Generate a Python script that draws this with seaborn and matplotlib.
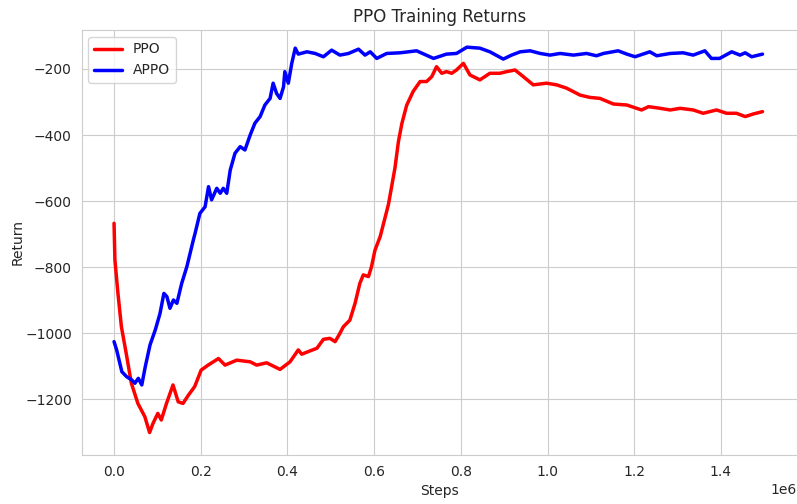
import numpy as np
import pandas as pd
import matplotlib
matplotlib.use("Agg")
import matplotlib.pyplot as plt
import seaborn as sns

# Returns (steps in thousands)
ppo_steps = [0, 2, 9, 17, 28, 40, 55, 71, 82, 90, 101, 109, 121, 136, 148, 159,
             171, 186, 201, 217, 241, 256, 283, 314, 329, 352, 383, 406, 425, 433,
             452, 468, 483, 498, 510, 521, 529, 544, 556, 567, 575, 587, 594, 602,
             614, 633, 648, 656, 664, 675, 690, 706, 721, 733, 744, 756, 767, 779,
             790, 806, 821, 844, 867, 890, 906, 925, 944, 967, 998, 1021, 1044,
             1075, 1098, 1121, 1152, 1183, 1217, 1233, 1260, 1283, 1306, 1336,
             1359, 1390, 1413, 1436, 1456, 1475, 1496]
ppo_returns = [-667, -778, -879, -980, -1060, -1151, -1212, -1252, -1300, -1272,
               -1242, -1262, -1212, -1156, -1207, -1212, -1188, -1161, -1111,
               -1096, -1076, -1096, -1081, -1086, -1096, -1089, -1109, -1086,
               -1050, -1063, -1053, -1045, -1018, -1015, -1025, -1000, -980, -960,
               -909, -849, -823, -828, -798, -748, -707, -610, -500, -420, -365,
               -310, -268, -238, -238, -223, -193, -213, -208, -213, -203, -183,
               -218, -233, -213, -213, -208, -203, -223, -248, -243, -248, -258,
               -279, -286, -289, -306, -309, -324, -314, -319, -324, -319, -324,
               -334, -324, -334, -334, -344, -336, -329]

appo_steps = [0, 6, 18, 29, 41, 48, 56, 64, 72, 83, 95, 106, 115, 122, 129, 137,
              145, 156, 168, 183, 187, 198, 210, 218, 225, 237, 245, 252, 260, 268,
              279, 291, 302, 314, 325, 337, 348, 360, 367, 375, 383, 391, 394, 402,
              410, 418, 425, 445, 464, 483, 502, 521, 541, 564, 579, 591, 606, 629,
              660, 698, 737, 767, 790, 814, 844, 867, 898, 917, 937, 960, 983, 1006,
              1029, 1060, 1090, 1113, 1129, 1163, 1183, 1202, 1236, 1252, 1283,
              1313, 1336, 1363, 1378, 1397, 1425, 1444, 1456, 1471, 1496]
appo_returns = [-1025, -1050, -1116, -1131, -1141, -1151, -1136, -1156, -1101,
                -1035, -990, -940, -879, -889, -924, -899, -909, -849, -798, -717,
                -697, -637, -617, -556, -596, -561, -576, -561, -576, -506, -455,
                -435, -445, -400, -364, -344, -309, -289, -243, -274, -289, -254,
                -208, -243, -183, -137, -155, -148, -153, -163, -143, -158, -153,
                -140, -158, -148, -168, -153, -151, -145, -168, -155, -153, -134,
                -137, -148, -170, -158, -148, -145, -153, -158, -153, -158, -153,
                -160, -153, -145, -155, -163, -148, -160, -153, -151, -158, -145,
                -168, -168, -148, -158, -151, -163, -155]

sns.set_style("whitegrid")

df = pd.concat([
    pd.DataFrame({"Steps": np.array(ppo_steps) * 1000, "Return": ppo_returns, "Algo": "PPO"}),
    pd.DataFrame({"Steps": np.array(appo_steps) * 1000, "Return": appo_returns, "Algo": "APPO"}),
])

fig, ax = plt.subplots(figsize=(7.97, 5.04), dpi=100)
sns.lineplot(data=df, x="Steps", y="Return", hue="Algo", estimator=None,
             palette={"PPO": "red", "APPO": "blue"}, linewidth=2.5, ax=ax)

ax.set_title("PPO Training Returns", fontsize=12)
ax.set_xlabel("Steps")
ax.set_ylabel("Return", labelpad=0)
ax.set_xlim(-75000, 1575000)
ax.set_ylim(-1368, -82)
ax.legend(loc="upper left", title=None)

plt.subplots_adjust(left=0.1023, right=0.9997, top=0.9405, bottom=0.0972)
plt.savefig("out.png", dpi=100)
